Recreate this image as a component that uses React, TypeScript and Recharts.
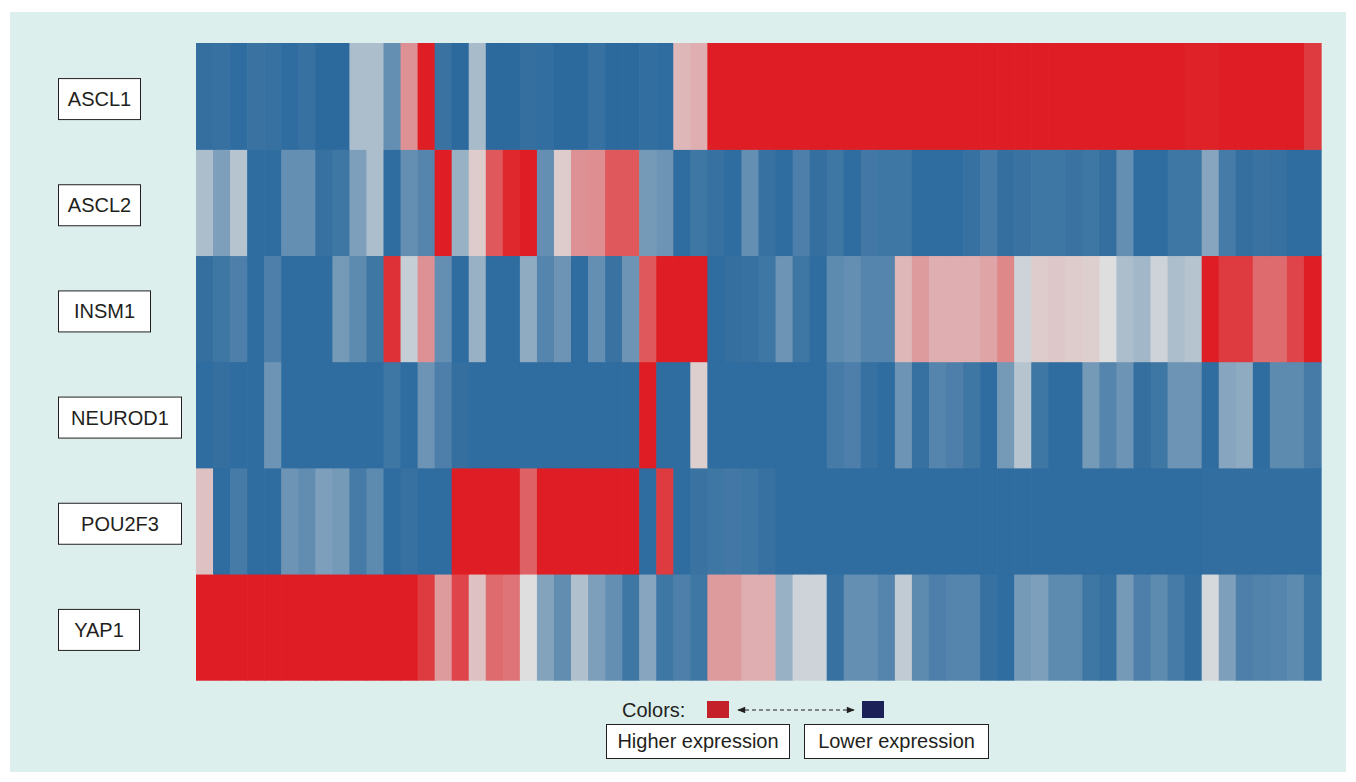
import React from 'react';
import { BarChart, Bar, XAxis, YAxis, Cell } from 'recharts';

// genes, top row first
const genes = ['ASCL1', 'ASCL2', 'INSM1', 'NEUROD1', 'POU2F3', 'YAP1'];

// relative expression per sample (-1 = lowest, +1 = highest), 66 samples
const ascl1 = [
  -0.92, -0.9, -0.95, -0.88, -0.9, -0.95, -0.9, -0.97, -0.97, -0.2,
  -0.2, -0.6, 0.4, 1, -0.88, -0.97, -0.22, -0.97, -0.97, -0.92,
  -0.93, -0.97, -0.97, -0.9, -0.97, -0.97, -0.93, -0.95, 0.2, 0.25,
  1, 1, 1, 1, 1, 1, 1, 1, 1, 1,
  1, 1, 1, 1, 1, 1, 1, 1, 1, 1,
  1, 1, 1, 1, 1, 1, 1, 1, 0.98, 0.98,
  1, 1, 1, 1, 1, 0.85,
];
const ascl2 = [
  -0.2, -0.45, -0.15, -0.95, -0.95, -0.6, -0.6, -0.9, -0.85, -0.45,
  -0.2, -0.95, -0.6, -0.7, 1, -0.3, 0.1, 0.7, 0.95, 1,
  -0.6, 0.1, 0.4, 0.42, 0.7, 0.7, -0.5, -0.55, -0.95, -0.85,
  -0.9, -0.95, -0.6, -0.9, -0.95, -0.75, -0.92, -0.85, -0.95, -0.82,
  -0.85, -0.85, -0.95, -0.95, -0.95, -0.9, -0.8, -0.92, -0.88, -0.85,
  -0.85, -0.88, -0.85, -0.92, -0.6, -0.95, -0.95, -0.85, -0.85, -0.4,
  -0.8, -0.92, -0.88, -0.9, -0.95, -0.95,
];
const insm1 = [
  -0.92, -0.85, -0.75, -0.95, -0.75, -0.95, -0.95, -0.95, -0.5, -0.65,
  -0.85, 0.9, -0.08, 0.4, -0.6, -0.95, -0.3, -0.95, -0.95, -0.35,
  -0.7, -0.55, -0.95, -0.6, -0.88, -0.55, 0.7, 1, 1, 1,
  -0.95, -0.92, -0.9, -0.85, -0.55, -0.85, -0.95, -0.65, -0.6, -0.7,
  -0.7, 0.2, 0.35, 0.25, 0.25, 0.25, 0.3, 0.45, -0.05, 0.1,
  0.12, 0.1, 0.08, 0, -0.2, -0.25, -0.05, -0.2, -0.15, 1,
  0.85, 0.85, 0.6, 0.6, 0.8, 1,
];
const neurod1 = [
  -0.95, -0.92, -0.95, -0.95, -0.55, -0.95, -0.95, -0.95, -0.95, -0.95,
  -0.95, -0.85, -0.95, -0.55, -0.75, -0.92, -0.95, -0.95, -0.95, -0.95,
  -0.95, -0.95, -0.95, -0.95, -0.95, -0.95, 1, -0.95, -0.95, 0.08,
  -0.95, -0.95, -0.95, -0.95, -0.95, -0.95, -0.95, -0.8, -0.75, -0.9,
  -0.95, -0.55, -0.9, -0.7, -0.75, -0.85, -0.95, -0.5, -0.15, -0.85,
  -0.95, -0.95, -0.5, -0.7, -0.55, -0.92, -0.85, -0.55, -0.55, -0.95,
  -0.4, -0.35, -0.95, -0.65, -0.65, -0.8,
];
const pou2f3 = [
  0.15, -0.95, -0.8, -0.95, -0.95, -0.55, -0.62, -0.45, -0.5, -0.8,
  -0.65, -0.95, -0.9, -0.95, -0.95, 1, 1, 1, 1, 0.65,
  1, 1, 1, 1, 1, 1, -0.95, 0.85, -0.95, -0.88,
  -0.85, -0.82, -0.85, -0.9, -0.95, -0.95, -0.95, -0.95, -0.95, -0.95,
  -0.95, -0.95, -0.95, -0.95, -0.95, -0.95, -0.95, -0.95, -0.95, -0.95,
  -0.95, -0.95, -0.95, -0.95, -0.95, -0.95, -0.95, -0.95, -0.95, -0.93,
  -0.93, -0.93, -0.93, -0.93, -0.93, -0.93,
];
const yap1 = [
  1, 1, 1, 1, 1, 1, 1, 1, 1, 1,
  1, 1, 1, 0.85, 0.35, 0.8, 0.15, 0.6, 0.55, 0,
  -0.42, -0.62, -0.18, -0.45, -0.6, -0.85, -0.4, -0.85, -0.75, -0.85,
  0.35, 0.35, 0.25, 0.25, -0.3, -0.05, -0.05, -0.9, -0.6, -0.6,
  -0.7, -0.1, -0.65, -0.75, -0.7, -0.7, -0.9, -0.95, -0.5, -0.45,
  -0.65, -0.65, -0.85, -0.9, -0.5, -0.75, -0.65, -0.8, -0.92, -0.02,
  -0.45, -0.75, -0.72, -0.7, -0.65, -0.85,
];

const expression: Record<string, number[]> = {
  ASCL1: ascl1,
  ASCL2: ascl2,
  INSM1: insm1,
  NEUROD1: neurod1,
  POU2F3: pou2f3,
  YAP1: yap1,
};

const samples = ascl1.map((_, i) => `S${i + 1}`);
const rowTicks = [0.5, 1.5, 2.5, 3.5, 4.5, 5.5];

// every cell is one unit tall, stacked so the rows fill the plot
const chartData = samples.map(sample => {
  const row: Record<string, string | number> = { sample };
  genes.forEach(g => { row[g] = 1; });
  return row;
});

const BLUE = [40, 103, 156];
const MID = [222, 222, 222];
const RED = [222, 30, 36];

function heatColor(v: number) {
  let t = Math.min(1, Math.abs(v));
  // blue side of the scale darkens faster
  if (v < 0) t = Math.pow(t, 0.8);
  const end = v < 0 ? BLUE : RED;
  const c = MID.map((m, k) => Math.round(m + (end[k] - m) * t));
  return `rgb(${c[0]},${c[1]},${c[2]})`;
}

const FONT = "'Liberation Sans', Arial, Helvetica, sans-serif";
const INK = '#231f20';

// widths of the label boxes on the left
const boxWidth: Record<string, number> = {
  ASCL1: 82,
  ASCL2: 82,
  INSM1: 92,
  NEUROD1: 123,
  POU2F3: 123,
  YAP1: 81,
};

// cells overlap their neighbours a little so no seams show
function HeatCell(props: any) {
  const { x, y, width, height, fill } = props;
  return <rect x={x} y={y} width={width + 0.7} height={height + 0.7} fill={fill} />;
}

function GeneTick(props: any) {
  const { y, payload } = props;
  const name = genes[Math.round(5.5 - payload.value)];
  const w = boxWidth[name];
  const cy = y + 3;
  return (
    <g>
      <rect x={58.5} y={cy - 20.5} width={w} height={41} fill="#fff" stroke={INK} strokeWidth={1} />
      <text x={58.5 + w / 2} y={cy + 7} textAnchor="middle" fontSize={20} fill={INK} fontFamily={FONT}>
        {name}
      </text>
    </g>
  );
}

function ColorKey() {
  return (
    <svg width={1356} height={782} style={{ position: 'absolute', left: 0, top: 0, pointerEvents: 'none' }}>
      <defs>
        <marker id="ah" viewBox="0 0 10 10" refX="9" refY="5" markerWidth="9" markerHeight="8" orient="auto-start-reverse">
          <path d="M0,1 L10,5 L0,9 z" fill={INK} />
        </marker>
      </defs>
      <text x={622} y={717} fontSize={20} fill={INK} fontFamily={FONT}>Colors:</text>
      <rect x={707} y={701} width={22} height={17} fill="#c4202a" />
      <line
        x1={738} y1={710} x2={854} y2={710}
        stroke={INK} strokeWidth={1} strokeDasharray="4 3"
        markerStart="url(#ah)" markerEnd="url(#ah)"
      />
      <rect x={862} y={701} width={22} height={17} fill="#1b2157" />
      <rect x={606.5} y={724.5} width={183} height={34} fill="#fff" stroke={INK} strokeWidth={1} />
      <text x={698} y={748} textAnchor="middle" fontSize={20} fill={INK} fontFamily={FONT}>Higher expression</text>
      <rect x={804.5} y={724.5} width={184} height={34} fill="#fff" stroke={INK} strokeWidth={1} />
      <text x={896.5} y={748} textAnchor="middle" fontSize={20} fill={INK} fontFamily={FONT}>Lower expression</text>
    </svg>
  );
}

export default function App() {
  const stackOrder = [...genes].reverse();
  return (
    <div style={{ position: 'relative', width: 1356, height: 782, background: '#fff', fontFamily: FONT }}>
      <style>{'body{margin:0}'}</style>
      <div style={{ position: 'absolute', left: 10, top: 12, width: 1336, height: 760, background: '#dcefec' }} />
      <div style={{ position: 'absolute', left: 0, top: 0 }}>
        <BarChart
          width={1356}
          height={782}
          data={chartData}
          margin={{ top: 43, right: 35, left: 0, bottom: 102 }}
          barCategoryGap={0}
          barGap={0}
        >
          <XAxis dataKey="sample" type="category" hide />
          <YAxis
            type="number"
            domain={[0, 6]}
            ticks={rowTicks}
            width={196}
            axisLine={false}
            tickLine={false}
            tick={<GeneTick />}
            interval={0}
          />
          {stackOrder.map(g => (
            <Bar key={g} dataKey={g} stackId="heat" isAnimationActive={false} shape={<HeatCell />}>
              {expression[g].map((v, i) => (
                <Cell key={i} fill={heatColor(v)} />
              ))}
            </Bar>
          ))}
        </BarChart>
      </div>
      <ColorKey />
    </div>
  );
}
